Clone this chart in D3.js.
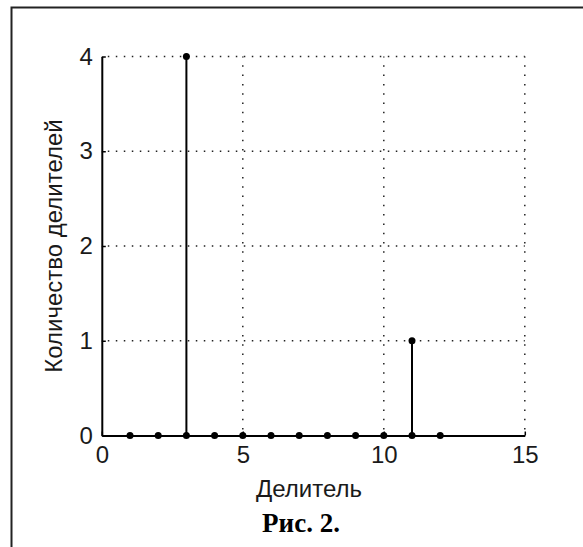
<!DOCTYPE html>
<html>
<head>
<meta charset="utf-8">
<script src="https://cdn.jsdelivr.net/npm/d3@7"></script>
<style>
  html, body { margin: 0; padding: 0; background: #fff; }
  svg { display: block; }
</style>
</head>
<body>
<div id="chart"></div>
<script>
// stem plot: how many times each divisor occurs
const divisors = [1, 2, 3, 4, 5, 6, 7, 8, 9, 10, 11, 12];
const counts   = [0, 0, 4, 0, 0, 0, 0, 0, 0, 0, 1, 0];
const xTicks = [0, 5, 10, 15];
const yTicks = [0, 1, 2, 3, 4];
const xLabel = "Делитель";
const yLabel = "Количество делителей";
const caption = "Рис. 2.";

const width = 583, height = 547;
const sans = "'Liberation Sans', Arial, Helvetica, sans-serif";

const svg = d3.select("#chart")
    .append("svg")
    .attr("width", width)
    .attr("height", height);

// page frame (only top and left edges are in view)
svg.append("path")
    .attr("d", "M11.5,547V7.5H583")
    .attr("fill", "none")
    .attr("stroke", "#222")
    .attr("stroke-width", 2);

const x = d3.scaleLinear().domain([0, 15]).range([101.8, 524.8]);
const y = d3.scaleLinear().domain([0, 4]).range([435.5, 56.5]);

// dotted grid
const grid = svg.append("g")
    .attr("stroke", "#222")
    .attr("stroke-width", 1.5)
    .attr("fill", "none");

grid.selectAll(".hgrid")
    .data(yTicks.filter(v => v > 0))
    .join("line")
    .attr("x1", x(0) + 6)
    .attr("x2", x(15))
    .attr("y1", d => y(d))
    .attr("y2", d => y(d))
    .attr("stroke-dasharray", "1.5,6.5");

grid.selectAll(".vgrid")
    .data(xTicks.filter(v => v > 0))
    .join("line")
    .attr("x1", d => x(d))
    .attr("x2", d => x(d))
    .attr("y1", y(0) - 6)
    .attr("y2", y(4))
    .attr("stroke-dasharray", "1.5,7.8");

// axes
const xAxis = svg.append("g")
    .attr("transform", `translate(0,${y(0)})`)
    .call(d3.axisBottom(x).tickValues(xTicks).tickFormat(d3.format("d"))
        .tickSizeInner(-4).tickSizeOuter(0).tickPadding(10));

const yAxis = svg.append("g")
    .attr("transform", `translate(${x(0)},0)`)
    .call(d3.axisLeft(y).tickValues(yTicks).tickFormat(d3.format("d"))
        .tickSizeInner(-4).tickSizeOuter(0).tickPadding(9));

[xAxis, yAxis].forEach(a => {
    a.select(".domain").attr("stroke", "#000").attr("stroke-width", 2);
    a.selectAll(".tick line").attr("stroke", "#000").attr("stroke-width", 1.5);
    a.selectAll(".tick text")
        .attr("fill", "#1a1a1a")
        .style("font-family", sans)
        .style("font-size", "24px");
});

// stems and markers
const points = divisors.map((d, i) => ({ d, v: counts[i] }));

svg.append("g")
    .selectAll("line")
    .data(points.filter(p => p.v > 0))
    .join("line")
    .attr("x1", p => x(p.d))
    .attr("x2", p => x(p.d))
    .attr("y1", y(0))
    .attr("y2", p => y(p.v))
    .attr("stroke", "#000")
    .attr("stroke-width", 2);

// marker at the foot of every stem
svg.append("g")
    .selectAll("circle")
    .data(points)
    .join("circle")
    .attr("cx", p => x(p.d))
    .attr("cy", y(0))
    .attr("r", 3.5)
    .attr("fill", "#000");

// marker at the value
svg.append("g")
    .selectAll("circle")
    .data(points.filter(p => p.v > 0))
    .join("circle")
    .attr("cx", p => x(p.d))
    .attr("cy", p => y(p.v))
    .attr("r", 3.5)
    .attr("fill", "#000");

// axis titles
svg.append("text")
    .attr("x", 309)
    .attr("y", 497)
    .attr("text-anchor", "middle")
    .attr("fill", "#1a1a1a")
    .style("font-family", sans)
    .style("font-size", "24px")
    .text(xLabel);

svg.append("text")
    .attr("transform", `translate(62,${(y(0) + y(4)) / 2}) rotate(-90)`)
    .attr("text-anchor", "middle")
    .attr("fill", "#1a1a1a")
    .style("font-family", sans)
    .style("font-size", "24px")
    .text(yLabel);

// figure caption
svg.append("text")
    .attr("x", 301)
    .attr("y", 532)
    .attr("text-anchor", "middle")
    .attr("fill", "#000")
    .style("font-family", "'Liberation Serif', 'Times New Roman', serif")
    .style("font-weight", "bold")
    .style("font-size", "27px")
    .text(caption);
</script>
</body>
</html>
